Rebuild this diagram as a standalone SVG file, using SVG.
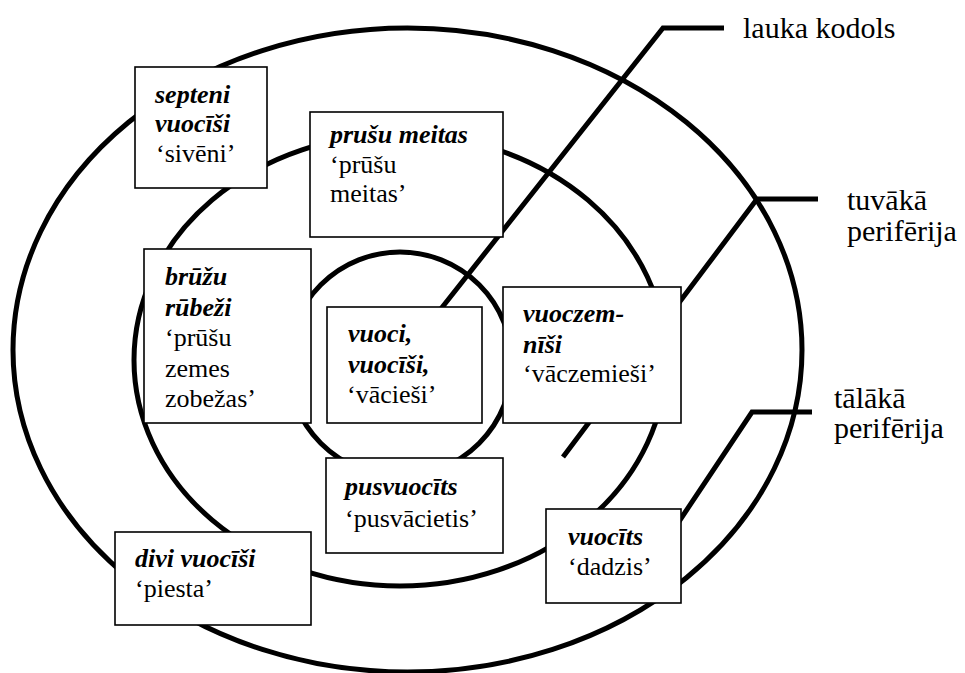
<svg xmlns="http://www.w3.org/2000/svg" width="965" height="673" viewBox="0 0 965 673">
<style>
.zone{fill:none;stroke:#000;stroke-width:5}
.lead{fill:none;stroke:#000;stroke-width:5;stroke-linejoin:miter}
.box{fill:#fff;stroke:#000;stroke-width:1.6}
.t{font-family:'Liberation Serif','Times New Roman',Times,'DejaVu Serif',serif;font-size:26px;fill:#000}
.w{font-weight:bold;font-style:italic}
.lbl{font-size:30px}
</style>
<rect width="965" height="673" fill="#fff"/>
<g id="zones">
<ellipse class="zone" cx="407.5" cy="350" rx="394.5" ry="322"/>
<ellipse class="zone" cx="400" cy="360" rx="266" ry="226"/>
<circle class="zone" cx="400" cy="364" r="112"/>
</g>
<g id="connectors">
<polyline class="lead" points="724,28 663,28 440,310"/>
<polyline class="lead" points="818,199 757,199 563,457"/>
<polyline class="lead" points="812,412 752,412 672,532"/>
</g>
<g id="septeni-vuocisi" class="t">
<rect class="box" x="135" y="67" width="132" height="121"/>
<text class="w" x="155" y="103">septeni</text>
<text class="w" x="155" y="132">vuocīši</text>
<text x="156" y="162">‘sivēni’</text>
</g>
<g id="prusu-meitas" class="t">
<rect class="box" x="310" y="112" width="193" height="125"/>
<text class="w" x="330" y="143">prušu meitas</text>
<text x="330" y="173">‘prūšu</text>
<text x="330" y="202">meitas’</text>
</g>
<g id="bruzu-rubezi" class="t">
<rect class="box" x="144" y="249" width="167" height="174"/>
<text class="w" x="165" y="285">brūžu</text>
<text class="w" x="165" y="315.5">rūbeži</text>
<text x="165" y="346">‘prūšu</text>
<text x="165" y="376.5">zemes</text>
<text x="165" y="407">zobežas’</text>
</g>
<g id="vuoci" class="t">
<rect class="box" x="327" y="307" width="155" height="116"/>
<text class="w" x="348" y="342">vuoci,</text>
<text class="w" x="348" y="373">vuocīši,</text>
<text x="347" y="403">‘vācieši’</text>
</g>
<g id="vuoczemnisi" class="t">
<rect class="box" x="503" y="287" width="178" height="136"/>
<text class="w" x="523" y="322">vuoczem-</text>
<text class="w" x="523" y="353">nīši</text>
<text x="523" y="382">‘vāczemieši’</text>
</g>
<g id="pusvuocits" class="t">
<rect class="box" x="326" y="458" width="177" height="95"/>
<text class="w" x="345" y="495">pusvuocīts</text>
<text x="345" y="527">‘pusvācietis’</text>
</g>
<g id="divi-vuocisi" class="t">
<rect class="box" x="115" y="532" width="196" height="93"/>
<text class="w" x="135" y="567">divi vuocīši</text>
<text x="135" y="597">‘piesta’</text>
</g>
<g id="vuocits" class="t">
<rect class="box" x="546" y="509" width="135" height="94"/>
<text class="w" x="568" y="545">vuocīts</text>
<text x="568" y="575">‘dadzis’</text>
</g>
<g id="label-kodols" class="t">
<text class="lbl" x="743" y="38">lauka kodols</text>
</g>
<g id="label-tuvaka" class="t">
<text class="lbl" x="847" y="210">tuvākā</text>
<text class="lbl" x="847" y="241">perifērija</text>
</g>
<g id="label-talaka" class="t">
<text class="lbl" x="834" y="408">tālākā</text>
<text class="lbl" x="834" y="438">perifērija</text>
</g>
</svg>
